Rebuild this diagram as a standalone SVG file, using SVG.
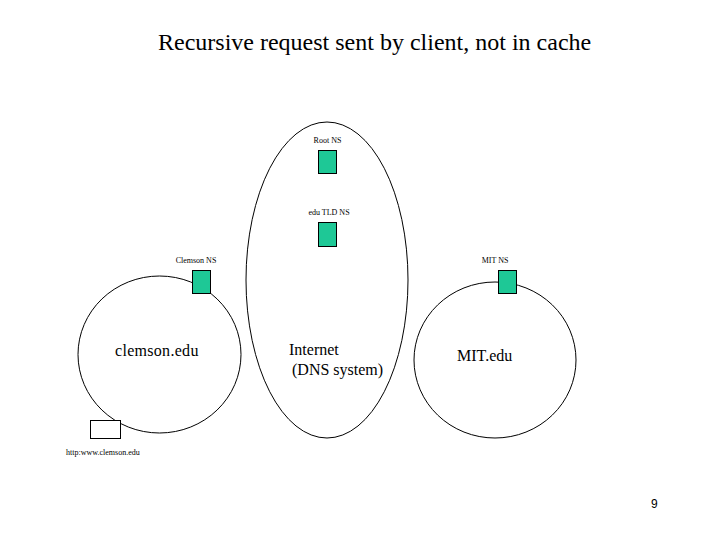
<svg xmlns="http://www.w3.org/2000/svg" width="720" height="540" viewBox="0 0 720 540">
<style>
.dom{fill:none;stroke:#000;stroke-width:1}
.ns{fill:#1ec896;stroke:#000;stroke-width:1}
text{fill:#000}
</style>
<rect width="720" height="540" fill="#fff"/>
<g font-family="'Liberation Serif', 'Times New Roman', serif">
<text x="158" y="50" font-size="24">Recursive request sent by client, not in cache</text>
<g id="connectors"></g>
<g id="internet">
<ellipse class="dom" cx="327" cy="280" rx="81" ry="158"/>
<text x="289" y="355" font-size="16">Internet</text>
<text x="292" y="375" font-size="16">(DNS system)</text>
</g>
<g id="clemson">
<ellipse class="dom" cx="159.5" cy="354.5" rx="81.5" ry="78.5"/>
<text x="115" y="356" font-size="16" letter-spacing="0.3">clemson.edu</text>
</g>
<g id="mit">
<ellipse class="dom" cx="495" cy="360" rx="81" ry="78"/>
<text x="457" y="361" font-size="16">MIT.edu</text>
</g>
<g id="root-ns">
<text x="327.5" y="143" font-size="8" text-anchor="middle">Root NS</text>
<rect class="ns" x="318.5" y="150.5" width="18" height="23"/>
</g>
<g id="edu-tld-ns">
<text x="329" y="215" font-size="8" text-anchor="middle">edu TLD NS</text>
<rect class="ns" x="318.5" y="222.5" width="18" height="24"/>
</g>
<g id="clemson-ns">
<text x="196" y="263" font-size="8" text-anchor="middle">Clemson NS</text>
<rect class="ns" x="192.5" y="270.5" width="18" height="23"/>
</g>
<g id="mit-ns">
<text x="495" y="263" font-size="8" text-anchor="middle">MIT NS</text>
<rect class="ns" x="498.5" y="270.5" width="18" height="23"/>
</g>
<g id="client">
<rect x="90.5" y="420.5" width="30" height="18" fill="#fff" stroke="#000"/>
<text x="66" y="455" font-size="8">http:www.clemson.edu</text>
</g>
</g>
<text x="651" y="508" font-family="'Liberation Sans', Arial, sans-serif" font-size="12">9</text>
</svg>
